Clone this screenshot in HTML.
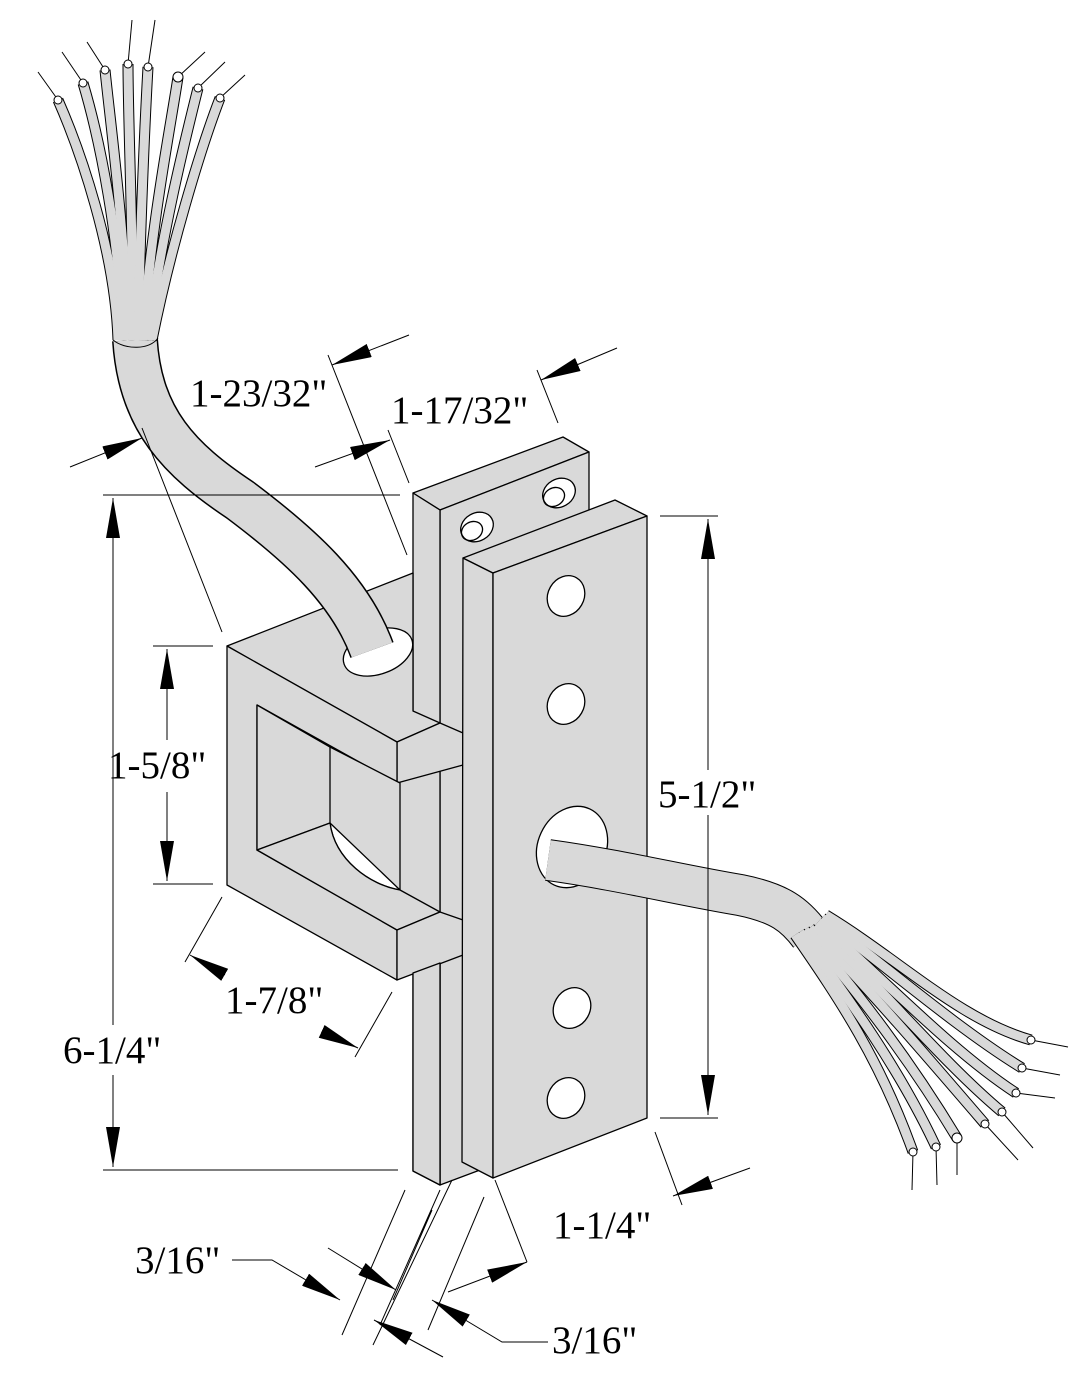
<!DOCTYPE html>
<html><head><meta charset="utf-8"><style>
html,body{margin:0;padding:0;background:#fff}
svg{display:block}
text{font-family:"Liberation Serif",serif;font-size:39px;fill:#000}
</style></head><body>
<svg width="1076" height="1378" viewBox="0 0 1076 1378" xmlns="http://www.w3.org/2000/svg">
<defs>
<marker id="a" viewBox="0 0 40 14" refX="40" refY="7" markerWidth="40" markerHeight="14" markerUnits="userSpaceOnUse" orient="auto"><path d="M0,0 L40,7 L0,14 Z" fill="#000"/></marker>
</defs>
<g stroke="#000" stroke-width="1.3" fill="#d9d9d9" stroke-linejoin="round">
<!-- back plate -->
<polygon points="413,493 563,437 589,452 440,510"/>
<polygon points="440,510 589,452 589,1100 480,1170 440,1185"/>
<polygon points="413,493 440,510 440,1185 413,1171"/>
<ellipse cx="477" cy="527" rx="17" ry="14" transform="rotate(-30 477 527)" fill="#fff"/>
<ellipse cx="472" cy="531" rx="11" ry="9" transform="rotate(-30 472 531)" fill="none"/>
<ellipse cx="559" cy="493" rx="17" ry="14" transform="rotate(-30 559 493)" fill="#fff"/>
<ellipse cx="554" cy="497" rx="11" ry="9" transform="rotate(-30 554 497)" fill="none"/>
<rect x="396" y="760" width="20" height="200" stroke="none"/>
<!-- block -->
<polygon points="227,646 413,573 413,711 440,723 397,742"/>
<polygon points="397,742 440,723 463,733 463,765 397,783"/>
<polygon points="227,646 397,742 397,783 257,705 257,850 397,930 397,980 227,885"/>
<polygon points="257,705 330,747 400,783 400,890 330,823 257,850"/>
<path d="M330,747 L330,823 C335,860 370,885 400,890" fill="none"/>
<path d="M257,850 L330,823 C335,860 370,885 400,890 L440,912 L397,930 Z"/>
<polygon points="397,930 440,912 463,920 463,955 397,980"/>
<polygon points="413,973 440,963 440,1185 413,1171"/>
<!-- front plate -->
<polygon points="463,558 493,573 493,1178 462,1162"/>
<polygon points="463,558 615,500 647,516 493,573"/>
<polygon points="493,573 647,516 647,1118 493,1178"/>
<ellipse cx="566" cy="596" rx="18" ry="21" transform="rotate(30 566 596)" fill="#fff"/>
<ellipse cx="566" cy="704" rx="18" ry="21" transform="rotate(30 566 704)" fill="#fff"/>
<ellipse cx="572" cy="1008" rx="18" ry="21" transform="rotate(30 572 1008)" fill="#fff"/>
<ellipse cx="566" cy="1098" rx="18" ry="21" transform="rotate(30 566 1098)" fill="#fff"/>
<ellipse cx="378" cy="652" rx="36" ry="22" transform="rotate(-20 378 652)" fill="#fff"/>
<ellipse cx="572" cy="847" rx="34" ry="42" transform="rotate(25 572 847)" fill="#fff"/>
</g>
<!-- upper cable -->
<g fill="none" stroke-linecap="butt">
<path d="M135,340 C140,420 180,460 240,500 C300,545 350,590 372,650" stroke="#000" stroke-width="46"/>
<path d="M135,340 C140,420 180,460 240,500 C300,545 350,590 372,650" stroke="#d9d9d9" stroke-width="43"/>
</g>
<g fill="none">
<g stroke="#000" stroke-width="11">
<path d="M118,340 C115,250 80,150 58,100"/>
<path d="M123,340 C120,240 100,140 83,83"/>
<path d="M128,340 C125,230 110,120 105,70"/>
<path d="M133,340 C133,230 128,120 128,64"/>
<path d="M138,340 C140,230 145,120 148,67"/>
<path d="M143,340 C150,230 170,130 178,77"/>
<path d="M148,340 C160,240 185,140 198,88"/>
<path d="M152,340 C170,250 200,150 220,98"/>
</g>
<g stroke="#d9d9d9" stroke-width="9">
<path d="M118,340 C115,250 80,150 58,100"/>
<path d="M123,340 C120,240 100,140 83,83"/>
<path d="M128,340 C125,230 110,120 105,70"/>
<path d="M133,340 C133,230 128,120 128,64"/>
<path d="M138,340 C140,230 145,120 148,67"/>
<path d="M143,340 C150,230 170,130 178,77"/>
<path d="M148,340 C160,240 185,140 198,88"/>
<path d="M152,340 C170,250 200,150 220,98"/>
</g>
<g stroke="#000" stroke-width="1">
<path d="M58,100 L38,72"/><path d="M83,83 L62,52"/><path d="M105,70 L87,42"/><path d="M128,64 L132,20"/>
<path d="M148,67 L155,20"/><path d="M178,77 L205,52"/><path d="M198,88 L225,62"/><path d="M220,98 L245,75"/>
<path d="M113,340 C125,350 150,350 158,338"/>
</g>
</g>
<g fill="#fff" stroke="#000" stroke-width="1">
<circle cx="58" cy="100" r="4"/><circle cx="83" cy="83" r="4"/><circle cx="105" cy="70" r="4"/><circle cx="128" cy="64" r="4"/>
<circle cx="148" cy="67" r="4"/><circle cx="178" cy="77" r="5"/><circle cx="198" cy="88" r="4"/><circle cx="220" cy="98" r="4"/>
</g>
<!-- lower cable -->
<g fill="none">
<path d="M548,860 C620,870 680,885 740,895 C780,903 795,915 810,935" stroke="#000" stroke-width="42"/>
<path d="M548,860 C620,870 680,885 740,895 C780,903 795,915 810,935" stroke="#d9d9d9" stroke-width="40"/>
<g stroke="#000" stroke-width="11">
<path d="M795,935 C840,1000 880,1060 913,1152"/>
<path d="M800,932 C850,1000 900,1070 936,1147"/>
<path d="M805,930 C860,995 910,1060 957,1138"/>
<path d="M810,928 C870,990 930,1060 985,1124"/>
<path d="M815,926 C880,985 940,1060 1002,1112"/>
<path d="M818,922 C880,975 950,1050 1016,1093"/>
<path d="M822,918 C890,970 960,1030 1022,1068"/>
<path d="M826,915 C900,960 960,1020 1031,1040"/>
</g>
<g stroke="#d9d9d9" stroke-width="9">
<path d="M795,935 C840,1000 880,1060 913,1152"/>
<path d="M800,932 C850,1000 900,1070 936,1147"/>
<path d="M805,930 C860,995 910,1060 957,1138"/>
<path d="M810,928 C870,990 930,1060 985,1124"/>
<path d="M815,926 C880,985 940,1060 1002,1112"/>
<path d="M818,922 C880,975 950,1050 1016,1093"/>
<path d="M822,918 C890,970 960,1030 1022,1068"/>
<path d="M826,915 C900,960 960,1020 1031,1040"/>
</g>
<g stroke="#000" stroke-width="1">
<path d="M913,1152 L912,1190"/><path d="M936,1147 L937,1185"/><path d="M957,1138 L957,1175"/>
<path d="M985,1124 L1018,1160"/><path d="M1002,1112 L1033,1148"/><path d="M1016,1093 L1055,1098"/>
<path d="M1022,1068 L1060,1075"/><path d="M1031,1040 L1068,1047"/>
</g>
</g>
<g fill="#fff" stroke="#000" stroke-width="1">
<circle cx="913" cy="1152" r="4"/><circle cx="936" cy="1147" r="4"/><circle cx="957" cy="1138" r="5"/><circle cx="985" cy="1124" r="4"/>
<circle cx="1002" cy="1112" r="4"/><circle cx="1016" cy="1093" r="4"/><circle cx="1022" cy="1068" r="4"/><circle cx="1031" cy="1040" r="4"/>
</g>
<!-- dimensions -->
<g stroke="#000" stroke-width="1" fill="none">
<path d="M103,495 H400 M103,1170 H398"/>
<path d="M113,540 V498" marker-end="url(#a)"/><path d="M113,1125 V1167" marker-end="url(#a)"/>
<path d="M113,540 V1025 M113,1075 V1125"/>
<path d="M660,516 H718 M660,1118 H718"/>
<path d="M708,560 V519" marker-end="url(#a)"/><path d="M708,1075 V1115" marker-end="url(#a)"/>
<path d="M708,560 V770 M708,815 V1075"/>
<path d="M153,646 H213 M153,884 H213"/>
<path d="M167,690 V649" marker-end="url(#a)"/><path d="M167,840 V881" marker-end="url(#a)"/>
<path d="M167,690 V740 M167,792 V840"/>
<path d="M222,897 L185,962 M392,992 L355,1057"/>
<path d="M225,975 L190,955" marker-end="url(#a)"/><path d="M323,1032 L358,1048" marker-end="url(#a)"/>
<path d="M142,428 L222,632 M328,355 L407,555"/>
<path d="M70,467 L142,438" marker-end="url(#a)"/><path d="M409,335 L332,365" marker-end="url(#a)"/>
<path d="M388,430 L409,483 M537,370 L558,423"/>
<path d="M315,467 L390,440" marker-end="url(#a)"/><path d="M617,348 L541,380" marker-end="url(#a)"/>
<path d="M655,1132 L682,1205 M495,1180 L527,1262"/>
<path d="M750,1168 L673,1196" marker-end="url(#a)"/><path d="M448,1292 L527,1262" marker-end="url(#a)"/>
<path d="M405,1190 L342,1335 M432,1210 L393,1300 M440,1190 L380,1325 M452,1180 L373,1345"/>
<path d="M232,1260 H272 L340,1300" marker-end="url(#a)"/>
<path d="M328,1248 L396,1290" marker-end="url(#a)"/>
<path d="M443,1357 L374,1320" marker-end="url(#a)"/>
<path d="M484,1197 L428,1330"/>
<path d="M548,1342 H502 L432,1300" marker-end="url(#a)"/>
</g>
<text x="190" y="406">1-23/32"</text>
<text x="391" y="423">1-17/32"</text>
<text x="658" y="807">5-1/2"</text>
<text x="108" y="778">1-5/8"</text>
<text x="225" y="1013">1-7/8"</text>
<text x="63" y="1063">6-1/4"</text>
<text x="553" y="1238">1-1/4"</text>
<text x="135" y="1273">3/16"</text>
<text x="552" y="1353">3/16"</text>
</svg>
</body></html>
